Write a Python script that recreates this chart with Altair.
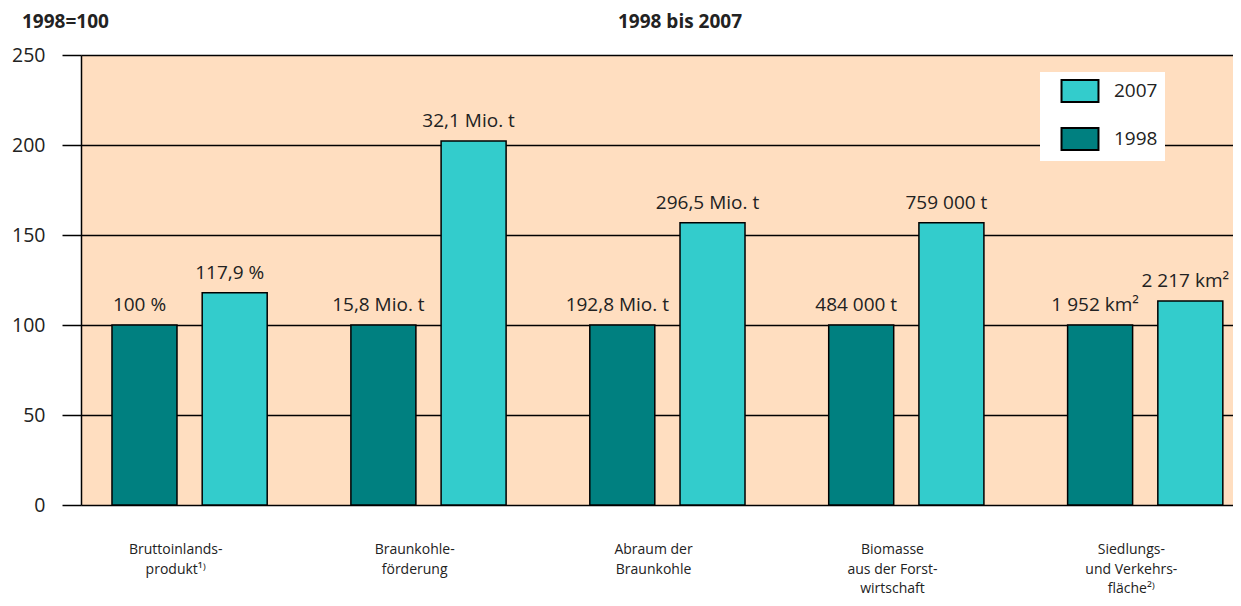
import altair as alt
import pandas as pd

categories = [
    "Bruttoinlands-\nprodukt¹⁾",
    "Braunkohle-\nförderung",
    "Abraum der\nBraunkohle",
    "Biomasse\naus der Forst-\nwirtschaft",
    "Siedlungs-\nund Verkehrs-\nfläche²⁾",
]
years = ["1998", "2007"]
values_1998 = [100, 100, 100, 100, 100]
values_2007 = [117.9, 202.2, 156.8, 156.8, 113.3]
labels_1998 = ["100 %", "15,8 Mio. t", "192,8 Mio. t", "484 000 t", "1 952 km²"]
labels_2007 = ["117,9 %", "32,1 Mio. t", "296,5 Mio. t", "759 000 t", "2 217 km²"]
y_ticks = [0, 50, 100, 150, 200, 250]

rows = []
for i, c in enumerate(categories):
    rows.append({"idx": i, "cat": c, "year": "1998", "value": values_1998[i], "label": labels_1998[i]})
    rows.append({"idx": i, "cat": c, "year": "2007", "value": values_2007[i], "label": labels_2007[i]})
df = pd.DataFrame(rows)
cat_df = pd.DataFrame({"idx": list(range(len(categories))), "cat": categories})

FONT = "Open Sans"
xscale = alt.Scale(domain=[-0.4336, 4.3465], nice=False, zero=False)
yscale = alt.Scale(domain=[0, 250], nice=False)

base = alt.Chart(df).transform_calculate(
    pos="datum.idx + (datum.year == '2007' ? 0.1888 : -0.1888)"
)

bars = base.mark_bar(size=65, stroke="black", strokeWidth=1.5).encode(
    x=alt.X("pos:Q", scale=xscale, axis=None),
    y=alt.Y(
        "value:Q",
        scale=yscale,
        axis=alt.Axis(
            values=y_ticks,
            title=None,
            tickSize=19,
            tickColor="black",
            tickWidth=1.5,
            labelPadding=17,
            labelFontSize=19.5,
            labelFont=FONT,
            labelColor="#222",
            grid=True,
            gridColor="black",
            gridWidth=1.5,
            domain=True,
            domainColor="black",
            domainWidth=1.5,
        ),
    ),
    color=alt.Color(
        "year:N",
        scale=alt.Scale(domain=["2007", "1998"], range=["#33CCCC", "#008080"]),
        legend=alt.Legend(
            title=None,
            orient="none",
            legendX=959,
            legendY=17,
            fillColor="white",
            padding=7,
            symbolOffset=21,
            symbolType="M-1.68,-1H1.68V1H-1.68Z",
            symbolSize=484,
            symbolStrokeColor="black",
            symbolStrokeWidth=2,
            labelFontSize=19,
            labelFont=FONT,
            labelColor="#222",
            labelOffset=22,
            rowPadding=18,
        ),
    ),
)

value_text = base.mark_text(
    fontSize=19, font=FONT, color="#222", baseline="alphabetic", dy=-14, dx=-5
).encode(
    x=alt.X("pos:Q", scale=xscale),
    y=alt.Y("value:Q", scale=yscale),
    text="label:N",
)

cat_text = alt.Chart(cat_df).transform_calculate(
    lpos="datum.idx - 0.058"
).mark_text(
    fontSize=14, font=FONT, color="#222", baseline="top", lineBreak="\n", lineHeight=19.5
).encode(
    x=alt.X("lpos:Q", scale=xscale),
    y=alt.value(488),
    text="cat:N",
)

title_text = alt.Chart(pd.DataFrame({"t": ["1998 bis 2007"]})).mark_text(
    fontSize=19, font=FONT, fontWeight="bold", color="#222", align="center", baseline="alphabetic"
).encode(x=alt.value(599), y=alt.value(-27), text="t:N")

unit_text = alt.Chart(pd.DataFrame({"t": ["1998=100"]})).mark_text(
    fontSize=19, font=FONT, fontWeight="bold", color="#222", align="left", baseline="alphabetic"
).encode(x=alt.value(-59), y=alt.value(-27), text="t:N")

chart = alt.layer(bars, value_text, cat_text, title_text, unit_text).properties(
    width=1152,
    height=450,
    padding={"left": 73, "top": 47, "right": 0, "bottom": 93},
    autosize="none",
    background="white",
).configure_view(fill="#FFDEC0", stroke=None)

chart.save("out.html", embed_options={"renderer": "svg", "actions": False})
